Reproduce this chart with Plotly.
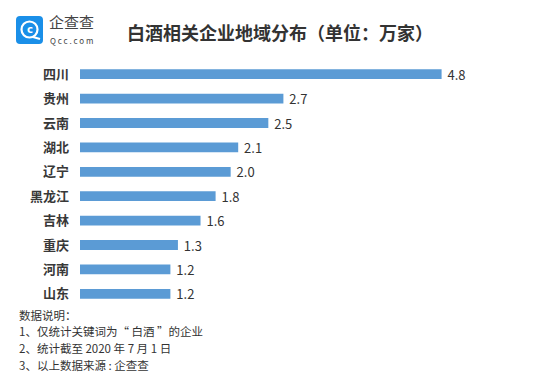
import plotly.graph_objects as go

regions = ["四川", "贵州", "云南", "湖北", "辽宁", "黑龙江", "吉林", "重庆", "河南", "山东"]
counts = [4.8, 2.7, 2.5, 2.1, 2.0, 1.8, 1.6, 1.3, 1.2, 1.2]
labels = ["4.8", "2.7", "2.5", "2.1", "2.0", "1.8", "1.6", "1.3", "1.2", "1.2"]
title_text = "白酒相关企业地域分布（单位：万家）"
notes = ["数据说明：", "1、仅统计关键词为“ 白酒 ”的企业", "2、统计截至 2020 年 7 月 1 日", "3、以上数据来源 : 企查查"]

W, H = 550, 374
L, R, T, B = 80, 18, 62, 68
PW, PH = W - L - R, H - T - B
FONT = "Noto Sans CJK SC"


def px(x):
    return (x - L) / PW


def py(y):
    return (H - B - y) / PH


fig = go.Figure(go.Bar(
    x=counts, y=regions, orientation="h",
    marker=dict(color="#5b9bd5", line=dict(width=0)),
    width=0.4,
    text=labels, texttemplate=" %{text}", textposition="outside", cliponaxis=False,
    textfont=dict(family=FONT, size=13, color="#333333"),
    hoverinfo="skip",
))

fig.update_layout(
    width=W, height=H,
    margin=dict(l=L, r=R, t=T, b=B),
    paper_bgcolor="white", plot_bgcolor="white",
    showlegend=False,
    uniformtext=dict(minsize=13, mode="show"),
    font=dict(family=FONT, color="#333333"),
    xaxis=dict(range=[0, 6], visible=False, fixedrange=True),
    yaxis=dict(autorange="reversed", showgrid=False, zeroline=False, showline=False,
               ticks="", ticklabelstandoff=10, fixedrange=True,
               tickfont=dict(family=FONT, size=13, color="#383838", weight=600), automargin=False),
)

ann = []
ann.append(dict(x=px(125), y=py(32), xref="paper", yref="paper", xanchor="left", yanchor="middle",
                text="<b>" + title_text + "</b>", showarrow=False,
                font=dict(family=FONT, size=18, color="#333333")))
# logo texts
ann.append(dict(x=px(47), y=py(21), xref="paper", yref="paper", xanchor="left", yanchor="middle",
                text="企查查", showarrow=False, font=dict(family=FONT, size=15, color="#444444")))
ann.append(dict(x=px(48), y=py(40), xref="paper", yref="paper", xanchor="left", yanchor="middle",
                text="Q c c . c o m", showarrow=False, font=dict(family=FONT, size=8, color="#444444")))
ann.append(dict(x=px(29.5), y=py(29.5), xref="paper", yref="paper", xanchor="center", yanchor="middle",
                text="<b>c</b>", showarrow=False, font=dict(family="DejaVu Sans", size=10, color="white")))
for i, t in enumerate(notes):
    ann.append(dict(x=px(17), y=py(314.5 + i * 16.7), xref="paper", yref="paper", xanchor="left",
                    yanchor="middle", text=t, showarrow=False,
                    font=dict(family=FONT, size=11.5, color="#333333")))
fig.update_layout(annotations=ann)

# logo shapes
x0, x1, y0, y1, r = 16, 43, 16, 44, 4
path = (f"M {px(x0 + r)},{py(y0)} L {px(x1 - r)},{py(y0)} Q {px(x1)},{py(y0)} {px(x1)},{py(y0 + r)} "
        f"L {px(x1)},{py(y1 - r)} Q {px(x1)},{py(y1)} {px(x1 - r)},{py(y1)} "
        f"L {px(x0 + r)},{py(y1)} Q {px(x0)},{py(y1)} {px(x0)},{py(y1 - r)} "
        f"L {px(x0)},{py(y0 + r)} Q {px(x0)},{py(y0)} {px(x0 + r)},{py(y0)} Z")
fig.add_shape(type="path", path=path, xref="paper", yref="paper",
              fillcolor="#1a8fe8", line=dict(width=0), layer="above")
fig.add_shape(type="circle", xref="paper", yref="paper",
              x0=px(21.5), x1=px(37.5), y0=py(37.5), y1=py(21.5),
              line=dict(color="white", width=2.2), fillcolor="rgba(0,0,0,0)", layer="above")
fig.add_shape(type="line", xref="paper", yref="paper",
              x0=px(33), x1=px(40), y0=py(37), y1=py(39),
              line=dict(color="white", width=2.2), layer="above")

fig.write_html("out.html", config={"displayModeBar": False, "staticPlot": True},
               post_script="document.body.style.margin='0';document.body.style.overflow='hidden';")
